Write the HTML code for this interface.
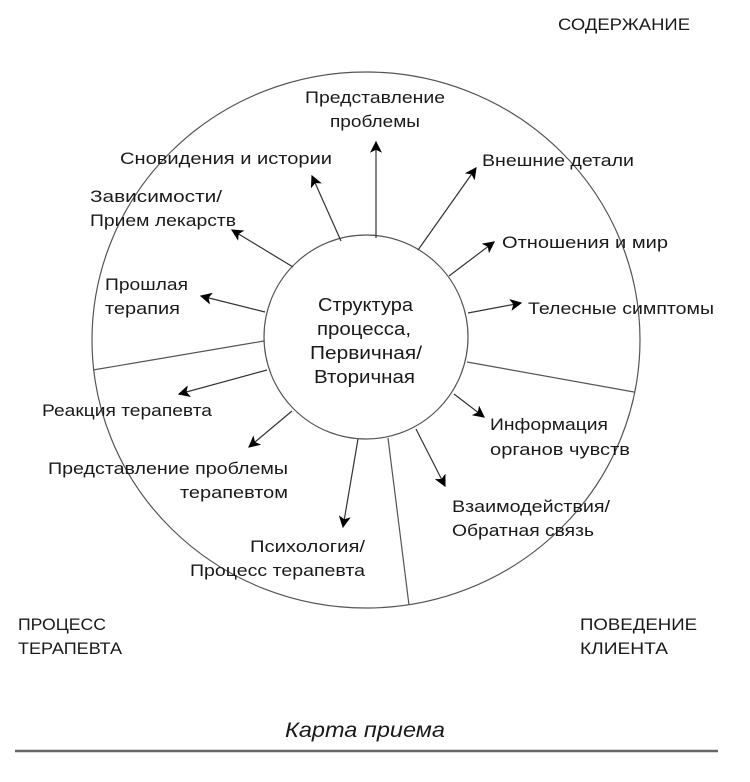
<!DOCTYPE html>
<html><head><meta charset="utf-8"><style>
html,body{margin:0;padding:0;background:#fff;}
svg{display:block;}
text{font-family:"Liberation Sans","Noto Sans CJK SC",sans-serif;font-size:17px;fill:#1a1a1a;}
</style></head><body>
<svg width="750" height="782" viewBox="0 0 750 782" xmlns="http://www.w3.org/2000/svg">
<defs>
<marker id="a" viewBox="0 0 10 10" refX="9" refY="5" markerWidth="12" markerHeight="12" markerUnits="userSpaceOnUse" orient="auto">
<path d="M0,0 L10,5 L0,10 L2.5,5 z" fill="#000"/></marker>
</defs>
<g stroke="#555" stroke-width="1.2" fill="none">
<ellipse cx="366" cy="340" rx="274" ry="268"/>
<circle cx="366" cy="337" r="102"/>
<line x1="264" y1="341" x2="93" y2="370"/>
<line x1="467" y1="362" x2="634" y2="392"/>
<line x1="388" y1="438" x2="409" y2="605"/>
</g>
<g stroke="#333" stroke-width="1.2" marker-end="url(#a)">
<line x1="376" y1="238" x2="376" y2="142"/>
<line x1="341" y1="241" x2="312" y2="176"/>
<line x1="293" y1="267" x2="232" y2="230"/>
<line x1="265" y1="312" x2="201" y2="296"/>
<line x1="418" y1="250" x2="476" y2="168"/>
<line x1="449" y1="276" x2="494" y2="242"/>
<line x1="468" y1="313" x2="521" y2="303"/>
<line x1="267" y1="370" x2="179" y2="394"/>
<line x1="292" y1="411" x2="249" y2="447"/>
<line x1="358" y1="439" x2="343" y2="527"/>
<line x1="454" y1="394" x2="484" y2="417"/>
<line x1="416" y1="429" x2="445" y2="486"/>
</g>
<text x="558" y="30" textLength="132" lengthAdjust="spacingAndGlyphs">СОДЕРЖАНИЕ</text>
<text x="305" y="103" textLength="140" lengthAdjust="spacingAndGlyphs">Представление</text>
<text x="330" y="127" textLength="90" lengthAdjust="spacingAndGlyphs">проблемы</text>
<text x="120" y="164" textLength="212" lengthAdjust="spacingAndGlyphs">Сновидения и истории</text>
<text x="482" y="166" textLength="152" lengthAdjust="spacingAndGlyphs">Внешние детали</text>
<text x="90" y="202" textLength="132" lengthAdjust="spacingAndGlyphs">Зависимости/</text>
<text x="90" y="226" textLength="146" lengthAdjust="spacingAndGlyphs">Прием лекарств</text>
<text x="502" y="248" textLength="166" lengthAdjust="spacingAndGlyphs">Отношения и мир</text>
<text x="105" y="290" textLength="83" lengthAdjust="spacingAndGlyphs">Прошлая</text>
<text x="105" y="314" textLength="75" lengthAdjust="spacingAndGlyphs">терапия</text>
<text x="528" y="314" textLength="186" lengthAdjust="spacingAndGlyphs">Телесные симптомы</text>
<text x="318" y="311" style="font-size:18px" textLength="95" lengthAdjust="spacingAndGlyphs">Структура</text>
<text x="317" y="335" style="font-size:18px" textLength="94" lengthAdjust="spacingAndGlyphs">процесса,</text>
<text x="310" y="359" style="font-size:18px" textLength="112" lengthAdjust="spacingAndGlyphs">Первичная/</text>
<text x="314" y="383" style="font-size:18px" textLength="101" lengthAdjust="spacingAndGlyphs">Вторичная</text>
<text x="42" y="416" textLength="170" lengthAdjust="spacingAndGlyphs">Реакция терапевта</text>
<text x="490" y="430" textLength="118" lengthAdjust="spacingAndGlyphs">Информация</text>
<text x="490" y="455" textLength="140" lengthAdjust="spacingAndGlyphs">органов чувств</text>
<text x="48" y="474" textLength="240" lengthAdjust="spacingAndGlyphs">Представление проблемы</text>
<text x="180" y="498" textLength="108" lengthAdjust="spacingAndGlyphs">терапевтом</text>
<text x="452" y="512" textLength="158" lengthAdjust="spacingAndGlyphs">Взаимодействия/</text>
<text x="452" y="536" textLength="142" lengthAdjust="spacingAndGlyphs">Обратная связь</text>
<text x="250" y="552" textLength="115" lengthAdjust="spacingAndGlyphs">Психология/</text>
<text x="190" y="576" textLength="175" lengthAdjust="spacingAndGlyphs">Процесс терапевта</text>
<text x="18" y="630" textLength="88" lengthAdjust="spacingAndGlyphs">ПРОЦЕСС</text>
<text x="18" y="654" textLength="104" lengthAdjust="spacingAndGlyphs">ТЕРАПЕВТА</text>
<text x="580" y="630" textLength="117" lengthAdjust="spacingAndGlyphs">ПОВЕДЕНИЕ</text>
<text x="580" y="654" textLength="88" lengthAdjust="spacingAndGlyphs">КЛИЕНТА</text>
<text x="285" y="737" style="font-size:21px;font-style:italic" textLength="160" lengthAdjust="spacingAndGlyphs">Карта приема</text>
<line x1="15" y1="751" x2="718" y2="751" stroke="#666" stroke-width="2.5"/>
</svg>
</body></html>
